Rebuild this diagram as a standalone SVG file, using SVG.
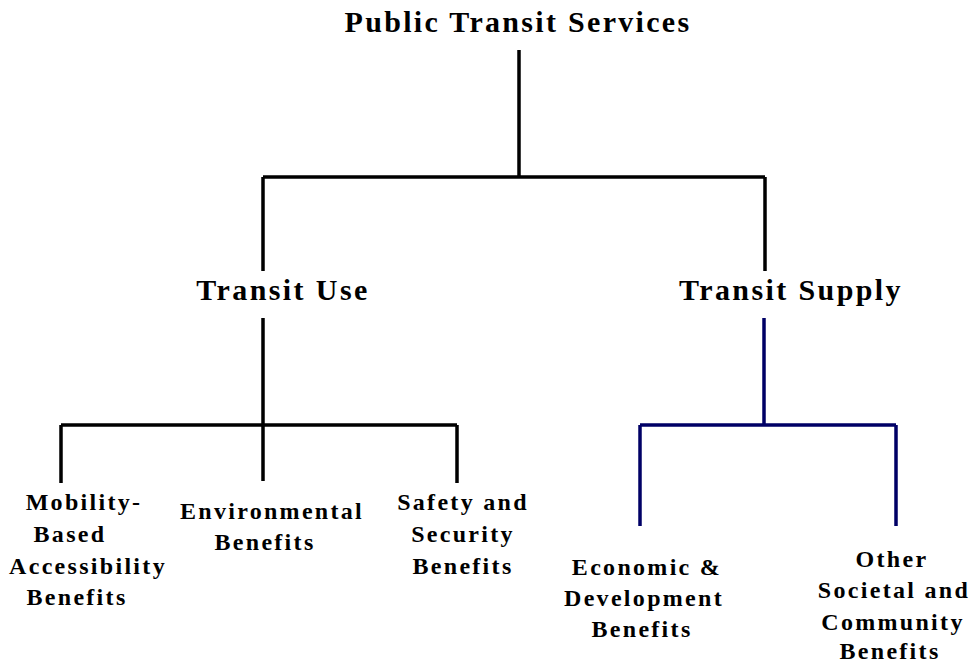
<svg xmlns="http://www.w3.org/2000/svg" width="972" height="663" viewBox="0 0 972 663">
<style>
text{font-family:"Liberation Serif","Times New Roman",serif;font-weight:bold;fill:#000;text-anchor:middle}
.t1{font-size:30px;letter-spacing:2.3px}
.t2{font-size:30px;letter-spacing:2.4px}
.t3{font-size:24px;letter-spacing:2.3px}
.k{stroke:#000;stroke-width:3.5;fill:none}
.n{stroke:#000066;stroke-width:3.5;fill:none}
</style>
<rect width="972" height="663" fill="#fff"/>
<g id="connectors">
<path class="k" d="M519 50V177M263 177H765M263 177V271M765 177V271"/>
<path class="k" d="M263 318V425M61 425H457M61 425V483M263 425V481M457 425V483"/>
<path class="n" d="M764 318V425M640 425H896M640 425V526M896 425V526"/>
</g>
<g id="root"><text class="t1" x="518" y="32">Public Transit Services</text></g>
<g id="use"><text class="t2" x="283" y="300">Transit Use</text></g>
<g id="supply"><text class="t2" x="791" y="300">Transit Supply</text></g>
<g id="mobility"><text class="t3" y="510"><tspan x="84">Mobility-</tspan><tspan x="70" dy="32">Based</tspan><tspan x="88" dy="32">Accessibility</tspan><tspan x="77" dy="31">Benefits</tspan></text></g>
<g id="environmental"><text class="t3" y="519"><tspan x="272">Environmental</tspan><tspan x="265" dy="31">Benefits</tspan></text></g>
<g id="safety"><text class="t3" y="510"><tspan x="463">Safety and</tspan><tspan x="463" dy="32">Security</tspan><tspan x="463" dy="32">Benefits</tspan></text></g>
<g id="economic"><text class="t3" y="575"><tspan x="647">Economic &amp;</tspan><tspan x="644" dy="31">Development</tspan><tspan x="642" dy="31">Benefits</tspan></text></g>
<g id="other"><text class="t3" y="567"><tspan x="892">Other</tspan><tspan x="894" dy="31">Societal and</tspan><tspan x="893" dy="32">Community</tspan><tspan x="890" dy="29">Benefits</tspan></text></g>
</svg>
